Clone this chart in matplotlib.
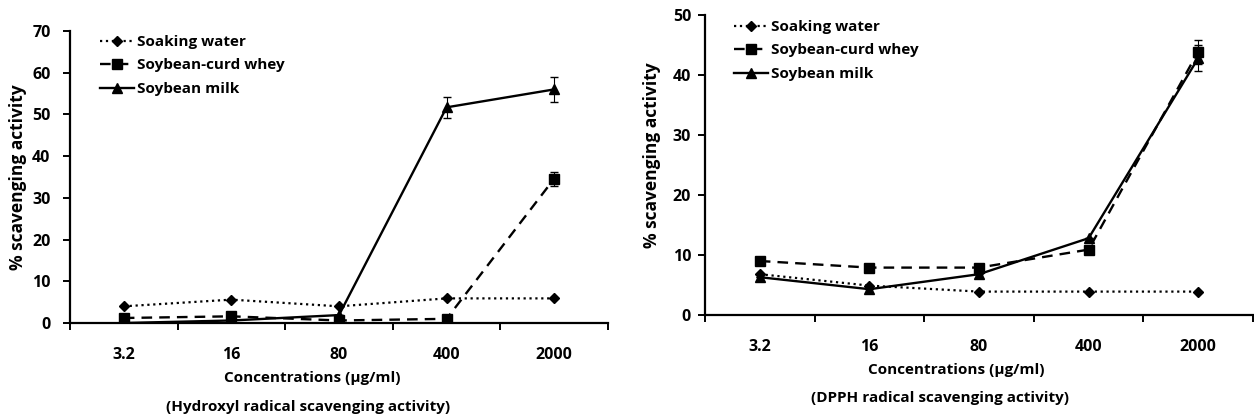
import numpy as np
import matplotlib.pyplot as plt
from matplotlib.ticker import FixedLocator

plt.rcParams['font.family'] = ['Open Sans', 'DejaVu Sans']
plt.rcParams['font.weight'] = 'bold'

conc = ['3.2', '16', '80', '400', '2000']
series = ['Soaking water', 'Soybean-curd whey', 'Soybean milk']

# Hydroxyl radical scavenging activity
hyd_water = [4.0, 5.6, 4.0, 5.9, 5.9]
hyd_whey = [1.2, 1.6, 0.6, 1.0, 34.6]
hyd_whey_err = [0, 0, 0, 0, 1.7]
hyd_milk = [0.0, 0.6, 1.9, 51.7, 56.0]
hyd_milk_err = [0, 0, 0, 2.5, 3.0]

# DPPH radical scavenging activity
dpph_water = [6.8, 4.9, 3.9, 3.9, 3.9]
dpph_whey = [9.0, 7.9, 7.9, 10.9, 43.9]
dpph_whey_err = [0, 0, 0, 0, 2.0]
dpph_milk = [6.3, 4.3, 6.8, 12.8, 42.8]
dpph_milk_err = [0, 0, 0, 0, 2.2]

W, H = 1254, 418
fig = plt.figure(figsize=(W / 100, H / 100), dpi=100)
ax1 = fig.add_axes([70 / W, 1 - 323 / H, 538 / W, 292 / H])
ax2 = fig.add_axes([705 / W, 1 - 315 / H, 548 / W, 300 / H])


def draw(ax, water, whey, whey_err, milk, milk_err, ymax, step, subtitle):
    x = np.arange(len(conc)) + 0.5
    ax.plot(x, water, linestyle=':', color='black', lw=1.6, marker='D', ms=5,
            label=series[0])
    ax.plot(x, whey, linestyle='--', dashes=(4.5, 3), color='black', lw=1.7,
            marker='s', ms=7, label=series[1])
    ax.plot(x, milk, linestyle='-', color='black', lw=1.7, marker='^', ms=7.5,
            label=series[2])
    ax.errorbar(x, whey, yerr=whey_err, fmt='none', ecolor='black', capsize=3,
                elinewidth=0.8)
    ax.errorbar(x, milk, yerr=milk_err, fmt='none', ecolor='black', capsize=3,
                elinewidth=0.8)
    ax.set_xlim(0, len(conc))
    ax.set_ylim(0, ymax)
    ax.set_yticks(np.arange(0, ymax + 1, step))
    ax.xaxis.set_major_locator(FixedLocator(np.arange(len(conc) + 1)))
    ax.set_xticklabels([])
    ax.xaxis.set_minor_locator(FixedLocator(x))
    ax.set_xticklabels(conc, minor=True, fontweight='bold')
    ax.tick_params(axis='x', which='major', direction='out', length=5, width=1.4)
    ax.tick_params(axis='x', which='minor', length=0, pad=17, labelsize=11.5)
    ax.tick_params(axis='y', direction='out', length=5, width=1.4, labelsize=11.5)
    for t in ax.get_yticklabels():
        t.set_fontweight('bold')
    for s in ['top', 'right']:
        ax.spines[s].set_visible(False)
    for s in ['left', 'bottom']:
        ax.spines[s].set_linewidth(1.6)
    ax.set_ylabel('% scavenging activity', fontsize=12.5, fontweight='bold', va='center')
    ax.set_xlabel('Concentrations (μg/ml)', fontsize=11, fontweight='bold', va='center')
    ax.text(0.5, 0, subtitle, transform=ax.transAxes, ha='center', va='center',
            fontsize=11, fontweight='bold')
    leg = ax.legend(loc='upper left', frameon=False, fontsize=11, handlelength=2.2,
                    handletextpad=0.2, labelspacing=0.62, borderaxespad=0,
                    borderpad=0)
    for t in leg.get_texts():
        t.set_fontweight('bold')
    return leg


leg1 = draw(ax1, hyd_water, hyd_whey, hyd_whey_err, hyd_milk, hyd_milk_err, 70, 10,
            '(Hydroxyl radical scavenging activity)')
leg2 = draw(ax2, dpph_water, dpph_whey, dpph_whey_err, dpph_milk, dpph_milk_err, 50, 10,
            '(DPPH radical scavenging activity)')

# left panel text placement
ax1.tick_params(axis='y', pad=9)
ax1.yaxis.set_label_coords((18 - 70) / 538, 0.5)
ax1.xaxis.set_label_coords((312 - 70) / 538, (323 - 378) / 292)
ax1.texts[0].set_position(((308 - 70) / 538, (323 - 407) / 292))
leg1.set_bbox_to_anchor(((100 - 70) / 538, (323 - 35) / 292), transform=ax1.transAxes)

# right panel text placement
ax2.tick_params(axis='y', pad=5)
ax2.yaxis.set_label_coords((652 - 705) / 548, (315 - 155) / 300)
ax2.xaxis.set_label_coords((956 - 705) / 548, (315 - 370) / 300)
ax2.texts[0].set_position(((940 - 705) / 548, (315 - 398) / 300))
leg2.set_bbox_to_anchor(((734 - 705) / 548, (315 - 20) / 300), transform=ax2.transAxes)

fig.savefig('out.png', dpi=100)
